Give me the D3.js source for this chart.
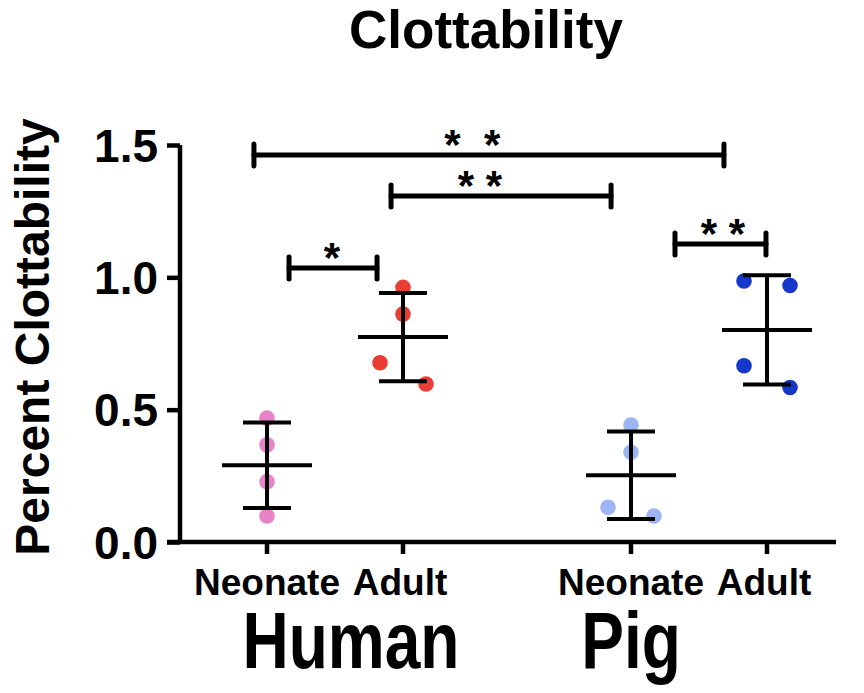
<!DOCTYPE html>
<html><head><meta charset="utf-8">
<script src="https://cdn.jsdelivr.net/npm/d3@7"></script>
<style>
html,body{margin:0;padding:0;background:#fff;}
text{font-family:"Liberation Sans",Arial,sans-serif;font-weight:bold;fill:#000;}
</style></head>
<body>
<svg id="c" width="864" height="693"></svg>
<script>
// ---- data ----
const species = ["Human", "Pig"];
const ages = ["Neonate", "Adult"];
const groupColors = ["#e883c9", "#ea3d33", "#9db5f2", "#1538c9"];
const humanNeonate = [0.468, 0.367, 0.228, 0.098];
const humanAdult   = [0.962, 0.861, 0.677, 0.597];
const pigNeonate   = [0.442, 0.339, 0.131, 0.098];
const pigAdult     = [0.986, 0.969, 0.666, 0.584];
// horizontal scatter column of each point (-1 left, 0 centre, 1 right)
const humanNeonateCols = [0, 0, 0, 0];
const humanAdultCols   = [0, 0, -1, 1];
const pigNeonateCols   = [0, 0, -1, 1];
const pigAdultCols     = [-1, 1, -1, 1];
const yTicks = [0.0, 0.5, 1.0, 1.5];
// significance brackets: x in group units (0 = Human Neonate, 1 = Human Adult ...), level in y units
const bracketFrom  = [-0.096, 0.912, 0.162, 3.0];
const bracketTo    = [3.36, 2.53, 0.809, 3.669];
const bracketLevel = [1.462, 1.307, 1.035, 1.126];
const bracketLabel = ["*  *", "* *", "*", "* *"];
const bracketLabelX = [1.51, 1.566, 0.478, 3.353];

const groups = [
  {sp: "Human", age: "Neonate", v: humanNeonate, cols: humanNeonateCols},
  {sp: "Human", age: "Adult",   v: humanAdult,   cols: humanAdultCols},
  {sp: "Pig",   age: "Neonate", v: pigNeonate,   cols: pigNeonateCols},
  {sp: "Pig",   age: "Adult",   v: pigAdult,     cols: pigAdultCols}
];

const svg = d3.select("#c");
const y = d3.scaleLinear().domain([0, 1.5]).range([542, 145]);
const xSp = d3.scalePoint().domain(species).range([335, 699]);
const xAge = d3.scalePoint().domain(ages).range([-68, 68]);
const gx = g => xSp(g.sp) + xAge(g.age);
const xu = d3.scaleLinear().domain([0, 1]).range([gx(groups[0]), gx(groups[1])]);
const colStep = 23;

// title
svg.append("text").attr("x", 486).attr("y", 48).attr("text-anchor", "middle")
  .style("font-size", "53px").text("Clottability");

// y axis
const yAxis = svg.append("g").attr("transform", "translate(180,0)")
  .call(d3.axisLeft(y).tickValues(yTicks).tickFormat(d3.format(".1f")).tickSize(13).tickPadding(9));
yAxis.select(".domain").attr("stroke", "#000").attr("stroke-width", 4.5)
  .attr("d", `M0,${y(1.5)}V${y(0)}`);
yAxis.selectAll(".tick line").attr("stroke", "#000").attr("stroke-width", 4.5);
yAxis.selectAll(".tick text").style("font-size", "46px").attr("dy", "0.35em")
  .style("font-family", "'Liberation Sans',Arial,sans-serif").style("font-weight", "bold").attr("fill", "#000");

// x axis
const xAxisG = svg.append("g");
xAxisG.append("line").attr("x1", 167).attr("x2", 836).attr("y1", y(0)).attr("y2", y(0))
  .attr("stroke", "#000").attr("stroke-width", 4.5);
xAxisG.selectAll(".xt").data(groups).enter().append("line")
  .attr("x1", gx).attr("x2", gx).attr("y1", y(0)).attr("y2", y(0) + 12)
  .attr("stroke", "#000").attr("stroke-width", 4.5);
xAxisG.selectAll(".xl").data(groups).enter().append("text")
  .attr("x", d => gx(d) + (d.age === "Adult" ? -3 : 0)).attr("y", 595)
  .attr("text-anchor", "middle").style("font-size", "37px").text(d => d.age);
svg.selectAll(".sp").data(species).enter().append("text")
  .attr("transform", d => `translate(${d === "Human" ? xSp(d) + 16 : xSp(d) - 68},668) scale(0.8,1)`)
  .attr("text-anchor", "middle").style("font-size", "80px").text(d => d);

// y label
svg.append("text").attr("transform", "translate(49,337) rotate(-90)")
  .attr("text-anchor", "middle").style("font-size", "48px").text("Percent Clottability");

// points
groups.forEach((g, i) => {
  svg.append("g").selectAll("circle").data(g.v).enter().append("circle")
    .attr("cx", (d, j) => gx(g) + g.cols[j] * colStep).attr("cy", d => y(d))
    .attr("r", 7.8).attr("fill", groupColors[i]);
});

// mean and SD
groups.forEach(g => {
  const m = d3.mean(g.v), s = d3.deviation(g.v), cx = gx(g);
  const e = svg.append("g").attr("stroke", "#000").attr("stroke-width", 4);
  e.append("line").attr("x1", cx).attr("x2", cx).attr("y1", y(m + s)).attr("y2", y(m - s));
  e.append("line").attr("x1", cx - 45).attr("x2", cx + 45).attr("y1", y(m)).attr("y2", y(m));
  [m + s, m - s].forEach(v => e.append("line").attr("x1", cx - 24).attr("x2", cx + 24).attr("y1", y(v)).attr("y2", y(v)));
});

// significance brackets
bracketLevel.forEach((lv, i) => {
  const b = svg.append("g").attr("stroke", "#000").attr("stroke-width", 5).attr("stroke-linecap", "round");
  const x1 = xu(bracketFrom[i]), x2 = xu(bracketTo[i]), yy = y(lv);
  b.append("line").attr("x1", x1).attr("x2", x2).attr("y1", yy).attr("y2", yy);
  b.append("line").attr("x1", x1).attr("x2", x1).attr("y1", yy - 11).attr("y2", yy + 11);
  b.append("line").attr("x1", x2).attr("x2", x2).attr("y1", yy - 11).attr("y2", yy + 11);
  svg.append("text").attr("x", xu(bracketLabelX[i])).attr("y", yy - 20 + 0.575 * 42)
    .attr("text-anchor", "middle").style("font-size", "42px").style("white-space", "pre")
    .attr("xml:space", "preserve").text(bracketLabel[i]);
});
</script>
</body></html>
